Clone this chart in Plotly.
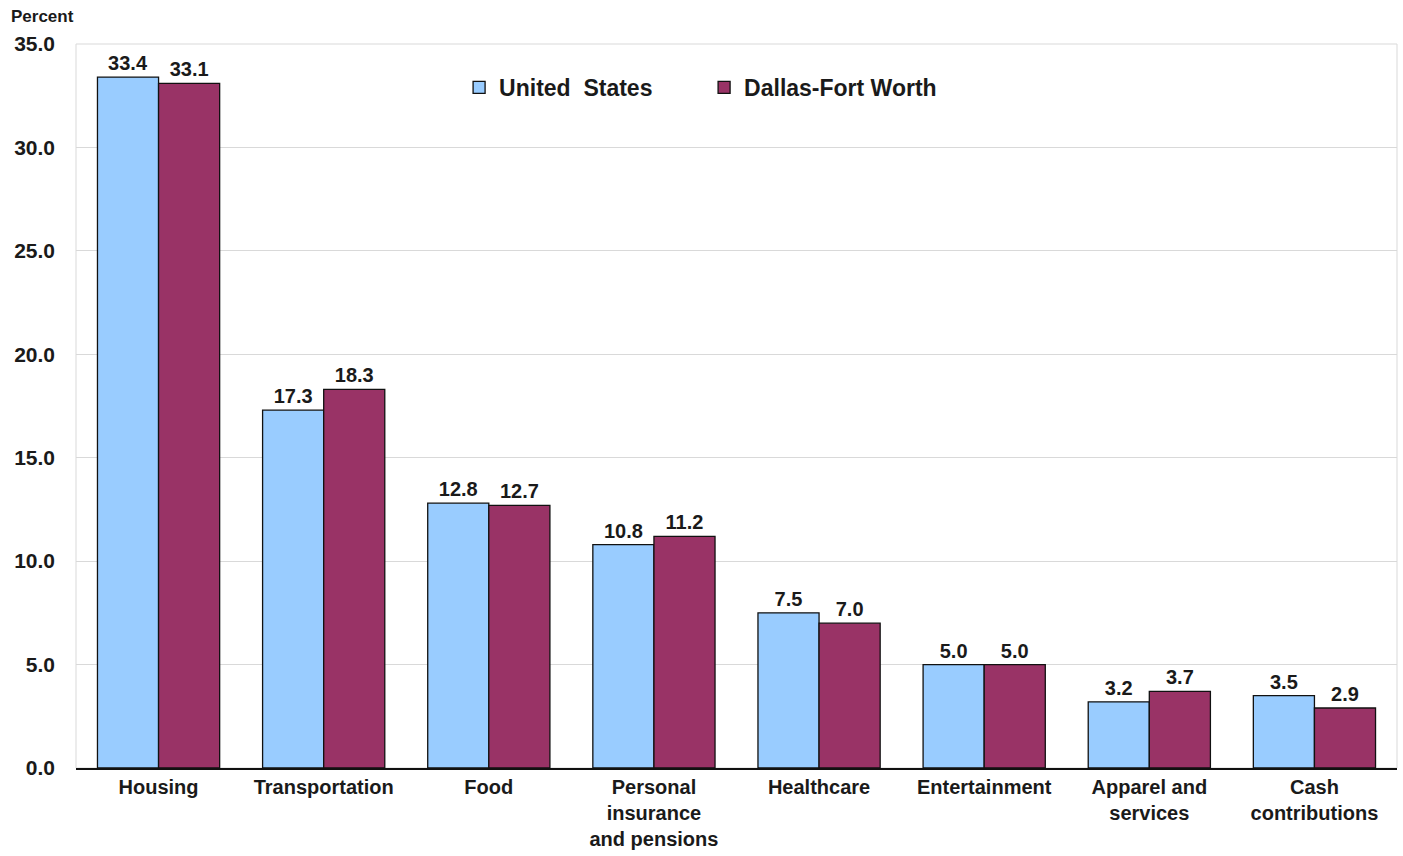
import plotly.graph_objects as go

categories = ["Housing", "Transportation", "Food", "Personal<br>insurance<br>and pensions",
              "Healthcare", "Entertainment", "Apparel and<br>services", "Cash<br>contributions"]
us_values = [33.4, 17.3, 12.8, 10.8, 7.5, 5.0, 3.2, 3.5]
dfw_values = [33.1, 18.3, 12.7, 11.2, 7.0, 5.0, 3.7, 2.9]
series_names = ["United  States", "Dallas-Fort Worth"]
y_ticks = [0, 5, 10, 15, 20, 25, 30, 35]

FONT = "Liberation Sans, Arial, sans-serif"
TXT = "#1a1a1a"

fig = go.Figure()
for name, vals, col in [(series_names[0], us_values, "#99CCFF"),
                        (series_names[1], dfw_values, "#993366")]:
    fig.add_trace(go.Bar(
        name=name, x=categories, y=vals,
        marker=dict(color=col, line=dict(color="#111111", width=1.3)),
        texttemplate="%{y:.1f}", textposition="outside",
        textfont=dict(family=FONT, size=20, color=TXT, weight="bold"), cliponaxis=False,
    ))

fig.update_layout(
    width=1403, height=856,
    margin=dict(l=76, r=6, t=44, b=86),
    paper_bgcolor="white", plot_bgcolor="white",
    barmode="group", bargap=0.26, bargroupgap=0,
    font=dict(family=FONT, color=TXT),
    showlegend=True,
    legend=dict(orientation="h", x=0.29, y=0.94, xanchor="left", yanchor="middle",
                font=dict(family=FONT, size=23, color=TXT, weight="bold"),
                bgcolor="rgba(0,0,0,0)", itemwidth=30, entrywidth=200, entrywidthmode="pixels",
                traceorder="normal"),
    uniformtext=dict(mode=False),
)
fig.update_xaxes(
    showline=True, linecolor="#111111", linewidth=2,
    ticks="", tickfont=dict(family=FONT, size=20, color=TXT, weight="bold"),
)
fig.update_yaxes(
    range=[0, 35], tickvals=y_ticks, tickformat=".1f",
    tickfont=dict(family=FONT, size=21, color=TXT, weight="bold"),
    showgrid=True, gridcolor="#d9d9d9", gridwidth=1,
    zeroline=False, ticks="", ticklabelstandoff=20,
)
fig.add_shape(type="rect", xref="paper", yref="paper", x0=0, x1=1, y0=0, y1=1,
              line=dict(color="#d9d9d9", width=1), layer="below")
fig.add_annotation(text="Percent", xref="paper", yref="paper", x=-0.051, y=1.0386,
                   xanchor="left", yanchor="middle", showarrow=False,
                   font=dict(family=FONT, size=17, color=TXT, weight="bold"))

fig.write_html("out.html")
